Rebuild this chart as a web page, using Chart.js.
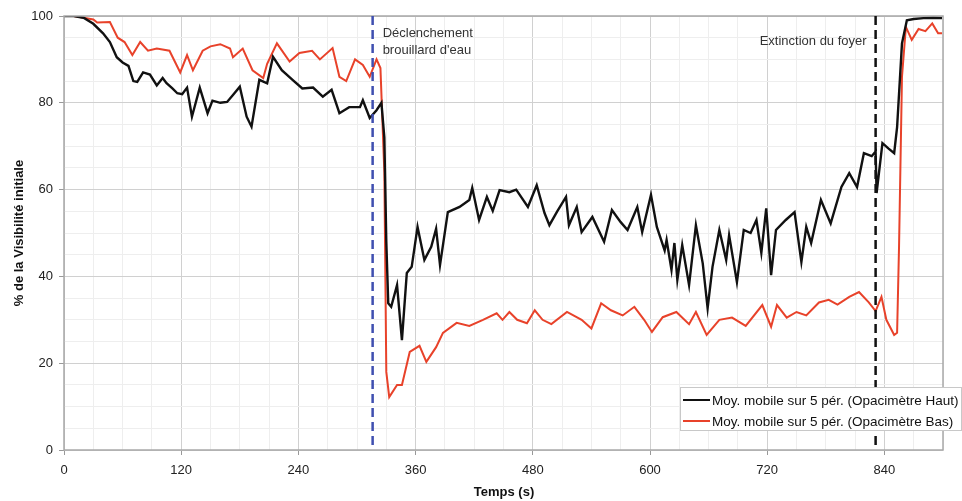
<!DOCTYPE html>
<html>
<head>
<meta charset="utf-8">
<script src="https://cdn.jsdelivr.net/npm/chart.js@4.4.1/dist/chart.umd.min.js"></script>
<style>
  html, body { margin: 0; padding: 0; background: #fff; }
</style>
</head>
<body>
<canvas id="chart-visi" width="962" height="501"></canvas>
<script>
// temps (s) et % de visibilité
const tHaut = [0,10,20,30,40,47,54,60,66,71,75,81,88,95,101,105,111,116,121,126,131,139,147,152,160,167,173,180,187,192,200,208,214,223,234,244,255,265,274,282,292,303,306,313,320,325,328,330,332,335,341,346,351,356,362,369,376,381,385,393,405,415,418,425,433,439,446,456,463,475,484,492,497,505,514,517,525,530,541,553,561,570,577,587,592,601,607,615,617,622,625,628,633,640,647,654,659,664,671,678,681,689,696,703,709,714,719,724,729,739,748,755,760,765,775,785,796,804,812,819,827,831,832,838,844,850,853,858,863,870,880,890,899];
const vHaut = [100,100,99.6,98.2,96,94,90.5,89.3,88.5,85,84.8,87,86.5,84,85.7,84.5,83.3,82.2,82,83.5,76.8,83.5,77.6,80.5,80,80.2,81.8,83.7,76.8,74.5,85.3,84.5,90.6,87.5,85.3,83.3,83.5,81.4,83,77.6,79,79,80.6,76.5,78.3,80,72,48,33.8,33,38,25.3,40.8,42.2,51.4,43.8,46.8,51,42.6,54.8,56,57.6,60.4,53,58.3,55.1,59.9,59.4,60,56,61,54.6,51.8,55,58.3,51.8,56,50.2,53.7,48,55.3,52.5,50.7,56,50.2,58.8,51.4,46,48.4,41.5,47.7,39.2,47.2,38,51.8,43,32.7,42.2,50.7,43.8,49.5,38.7,50.7,50,53,45.4,55.7,40.3,50.7,53,54.8,43.3,51.4,47.7,57.6,52.2,60.6,63.8,60.6,68.4,67.7,68.8,59.2,70.7,69.5,68.4,74.4,93.7,99,99.3,99.5,99.6,99.5];

const tBas = [0,10,20,30,34,47,55,62,70,78,86,95,108,119,126,132,142,150,160,170,173,183,193,204,208,218,231,241,254,262,275,282,289,298,306,313,320,324,328,330,333,341,346,354,364,371,381,388,402,415,429,443,449,456,464,474,482,490,499,515,530,540,550,560,572,584,594,602,613,627,640,647,658,671,684,698,715,724,730,740,750,760,773,783,792,804,814,824,831,837,842,850,853,855,858,862,868,875,882,889,895,899];
const vBas = [100,100,99.6,99.2,98.5,98.6,95,94,91,94,92,92.5,92,87,91,87.5,92,93,93.5,92.5,90.5,92.5,87.5,85.7,89,93.7,89.5,91.5,92,90,92.6,86,85,90,88.7,86,90,88,64,18,12.2,15,15,22.6,24,20.3,23.7,27,29.3,28.6,30,31.5,30,31.8,30,29.2,32.2,30,29,31.8,30,28,33.8,32.2,31,33,30,27.2,30.6,31.8,29,31.8,26.5,30,30.5,28.6,33.4,28.4,33.4,30.5,31.8,31,34,34.6,33.5,35.3,36.4,34,32,35.3,30,26.5,27,47,86,97.5,94.5,97,96.5,98.3,96,96];

const labelHaut = "Moy. mobile sur 5 pér. (Opacimètre Haut)";
const labelBas = "Moy. mobile sur 5 pér. (Opacimètre Bas)";

// événements
const tDeclenchement = 316;
const tExtinction = 831;

const police = "'Liberation Sans', Arial, sans-serif";

const toPoints = (ts, vs) => ts.map((t, i) => ({ x: t, y: vs[i] }));

const habillage = {
  id: 'habillage',
  afterDraw(chart) {
    const { ctx, chartArea: a, scales } = chart;
    ctx.save();

    // cadre
    ctx.strokeStyle = '#a8a8a8';
    ctx.lineWidth = 1.5;
    ctx.strokeRect(a.left, a.top, a.right - a.left, a.bottom - a.top);

    // lignes verticales pointillées
    const traitVertical = (t, couleur) => {
      const x = scales.x.getPixelForValue(t);
      ctx.beginPath();
      ctx.setLineDash([9, 5]);
      ctx.lineWidth = 2.5;
      ctx.strokeStyle = couleur;
      ctx.moveTo(x, a.top);
      ctx.lineTo(x, a.bottom);
      ctx.stroke();
      ctx.setLineDash([]);
      return x;
    };
    const xd = traitVertical(tDeclenchement, '#3f4fb0');
    const xe = traitVertical(tExtinction, '#111');

    ctx.fillStyle = '#333';
    ctx.font = '13px ' + police;
    ctx.textBaseline = 'middle';
    ctx.textAlign = 'left';
    ctx.fillText('Déclenchement', xd + 10, 33);
    ctx.fillText("brouillard d'eau", xd + 10, 50);
    ctx.textAlign = 'right';
    ctx.fillText('Extinction du foyer', xe - 9, 41);

    // titres des axes
    ctx.fillStyle = '#111';
    ctx.font = 'bold 13px ' + police;
    ctx.textAlign = 'center';
    ctx.fillText('Temps (s)', 504, 492);
    ctx.save();
    ctx.translate(19, 233);
    ctx.rotate(-Math.PI / 2);
    ctx.fillText('% de la Visibilité initiale', 0, 0);
    ctx.restore();

    // légende
    const lx = 680, ly = 387, lw = 281, lh = 43;
    ctx.fillStyle = '#fff';
    ctx.fillRect(lx, ly, lw, lh);
    ctx.strokeStyle = '#c8c8c8';
    ctx.lineWidth = 1;
    ctx.strokeRect(lx + 0.5, ly + 0.5, lw, lh);
    ctx.font = '13.5px ' + police;
    ctx.textAlign = 'left';
    chart.data.datasets.forEach((ds, i) => {
      const y = ly + 13 + i * 21;
      ctx.beginPath();
      ctx.strokeStyle = ds.borderColor;
      ctx.lineWidth = 2;
      ctx.moveTo(lx + 3, y);
      ctx.lineTo(lx + 30, y);
      ctx.stroke();
      ctx.fillStyle = '#111';
      ctx.fillText(ds.label, lx + 32, y + 1);
    });

    ctx.restore();
  }
};

const ctx = document.getElementById('chart-visi').getContext('2d');

let graficoVisi = new Chart(ctx, {
  type: 'line',
  data: {
    datasets: [{
      label: labelHaut,
      data: toPoints(tHaut, vHaut),
      borderColor: '#111111',
      borderWidth: 2.4,
      pointRadius: 0,
      tension: 0
    }, {
      label: labelBas,
      data: toPoints(tBas, vBas),
      borderColor: '#e8422a',
      borderWidth: 2,
      pointRadius: 0,
      tension: 0
    }]
  },
  options: {
    responsive: false,
    animation: false,
    layout: { padding: { top: 16, right: 19, left: 0, bottom: 0 } },
    plugins: {
      legend: { display: false },
      tooltip: { enabled: false }
    },
    scales: {
      x: {
        type: 'linear',
        min: 0,
        max: 900,
        afterFit: (s) => { s.height = 51; },
        border: { display: false },
        grid: {
          color: (c) => c.tick && c.tick.value % 120 === 0 ? '#d0d0d0' : '#eeeeee',
          tickColor: (c) => c.tick && c.tick.value % 120 === 0 ? '#999' : 'rgba(0,0,0,0)',
          tickLength: 5
        },
        ticks: {
          stepSize: 30,
          autoSkip: false,
          maxRotation: 0,
          padding: 8,
          color: '#222',
          font: { family: police, size: 13 },
          callback: (v) => v % 120 === 0 && v < 900 ? v : ''
        }
      },
      y: {
        min: 0,
        max: 100,
        afterFit: (s) => { s.width = 64; },
        border: { display: false },
        grid: {
          color: (c) => c.tick && c.tick.value % 20 === 0 ? '#d0d0d0' : '#eeeeee',
          tickColor: (c) => c.tick && c.tick.value % 20 === 0 ? '#999' : 'rgba(0,0,0,0)',
          tickLength: 5
        },
        ticks: {
          stepSize: 5,
          autoSkip: false,
          padding: 6,
          color: '#222',
          font: { family: police, size: 13 },
          callback: (v) => v % 20 === 0 ? v : ''
        }
      }
    }
  },
  plugins: [habillage]
});
</script>
</body>
</html>
